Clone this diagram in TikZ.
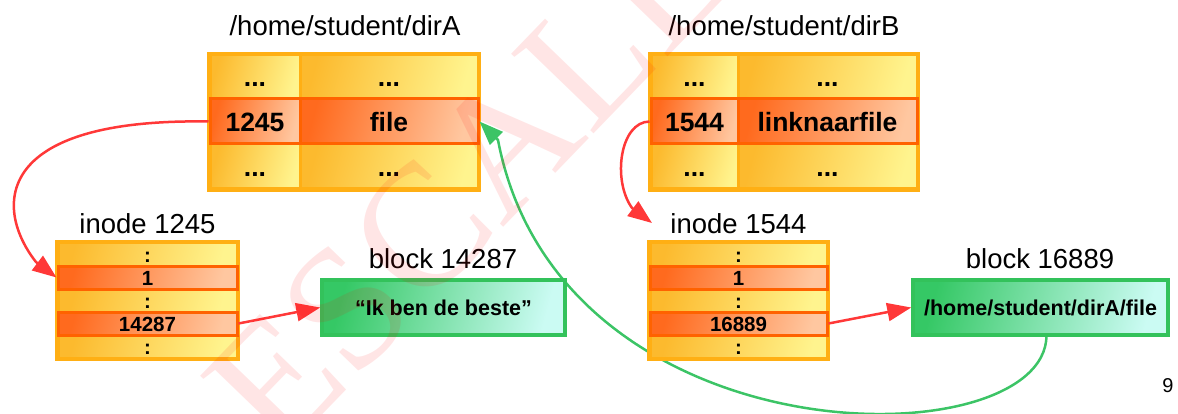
\documentclass[tikz,border=0pt]{standalone}
\usepackage{fontspec}
\setmainfont{Liberation Sans}
\newfontfamily\wmserif{Liberation Serif}
\usetikzlibrary{arrows.meta}
\definecolor{yelL}{HTML}{FCBA2E}
\definecolor{yelR}{HTML}{FFF48E}
\definecolor{yelB}{HTML}{FFAF14}
\definecolor{orgL}{HTML}{FF6A1E}
\definecolor{orgR}{HTML}{FFC7A0}
\definecolor{orgB}{HTML}{FF6200}
\definecolor{grnL}{HTML}{35C865}
\definecolor{grnR}{HTML}{CBFBF3}
\definecolor{grnB}{HTML}{33C25B}
\definecolor{arrRed}{HTML}{FF3838}
\definecolor{arrGrn}{HTML}{3CC466}
\begin{document}
\begin{tikzpicture}[x=1pt,y=-1pt,
  ycell/.style={draw=yelB, line width=3pt, left color=yelL, right color=yelR, shading angle=75, inner sep=0pt},
  ocell/.style={draw=orgB, line width=3pt, left color=orgL, right color=orgR, shading angle=75, inner sep=0pt},
  dirtxt/.style={font=\bfseries\fontsize{26.5}{30}\selectfont, text height=20pt, text depth=0pt},
  inotxt/.style={font=\bfseries\fontsize{20.5}{23}\selectfont, text height=15pt, text depth=0pt,
                 minimum width=179pt, minimum height=23pt},
  lbl/.style={font=\fontsize{27.5}{30}\selectfont, inner sep=0pt},
  blk/.style={draw=grnB, line width=3.5pt, left color=grnL, right color=grnR, shading angle=75,
              font=\bfseries\fontsize{21.5}{24}\selectfont, inner sep=0pt, minimum height=55pt},
  redarr/.style={draw=arrRed, line width=2.5pt, -{Triangle[length=24pt,width=18pt]}},
  grnarr/.style={draw=arrGrn, line width=2.5pt, -{Triangle[length=24pt,width=18pt]}},
  frame/.style={draw=yelB, line width=3pt}
]
\useasboundingbox (0,0) rectangle (1178,414);

% directory /home/student/dirA
\node[lbl] (tA) at (345,26) {/home/student/dirA};
\node[ycell, dirtxt, minimum width=90pt,  minimum height=44pt] (a11) at (255,77) {...};
\node[ycell, dirtxt, minimum width=178pt, minimum height=44pt] (a12) at (389,77) {...};
\node[ycell, dirtxt, minimum width=90pt,  minimum height=45pt] (a31) at (255,166.5) {...};
\node[ycell, dirtxt, minimum width=178pt, minimum height=45pt] (a32) at (389,166.5) {...};
\draw[frame] (a11.north west) rectangle (a32.south east);
\node[ocell, dirtxt, minimum width=90pt,  minimum height=45pt] (a21) at (255,121.5) {1245};
\node[ocell, dirtxt, minimum width=178pt, minimum height=45pt] (a22) at (389,121.5) {file};

% directory /home/student/dirB
\node[lbl] (tB) at (784,26) {/home/student/dirB};
\node[ycell, dirtxt, minimum width=87pt,  minimum height=44pt] (b11) at (694.5,77) {...};
\node[ycell, dirtxt, minimum width=179pt, minimum height=44pt] (b12) at (827.5,77) {...};
\node[ycell, dirtxt, minimum width=87pt,  minimum height=45pt] (b31) at (694.5,166.5) {...};
\node[ycell, dirtxt, minimum width=179pt, minimum height=45pt] (b32) at (827.5,166.5) {...};
\draw[frame] (b11.north west) rectangle (b32.south east);
\node[ocell, dirtxt, minimum width=87pt,  minimum height=45pt] (b21) at (694.5,121.5) {1544};
\node[ocell, dirtxt, minimum width=179pt, minimum height=45pt] (b22) at (827.5,121.5) {linknaarfile};

% green link curve, drawn beneath the inodes
\draw[grnarr] ([xshift=6pt]1040.5,335) coordinate (gstart)
  .. controls (1047,460) and (560,465) .. (498,140) -- (a22.east);

% inode 1245
\node[lbl] (ti1) at (147.5,224) {inode 1245};
\node[ycell, inotxt] (i1r1) at (147.5,254.5) {:};
\node[ycell, inotxt] (i1r3) at (147.5,300.5) {:};
\node[ycell, inotxt] (i1r5) at (147.5,346.5) {:};
\draw[frame] (i1r1.north west) rectangle (i1r5.south east);
\node[ocell, inotxt] (i1r2) at (147.5,277.5) {1};
\node[ocell, inotxt] (i1r4) at (147.5,323.5) {14287};

% inode 1544
\node[lbl] (ti2) at (738.5,224) {inode 1544};
\node[ycell, inotxt, minimum width=177pt] (i2r1) at (738.5,254.5) {:};
\node[ycell, inotxt, minimum width=177pt] (i2r3) at (738.5,300.5) {:};
\node[ycell, inotxt, minimum width=177pt] (i2r5) at (738.5,346.5) {:};
\draw[frame] (i2r1.north west) rectangle (i2r5.south east);
\node[ocell, inotxt, minimum width=177pt] (i2r2) at (738.5,277.5) {1};
\node[ocell, inotxt, minimum width=177pt] (i2r4) at (738.5,323.5) {16889};

% data blocks
\node[lbl] (tb1) at (443,258.5) {block 14287};
\node[blk, minimum width=243pt] (blk1) at (443.5,307.5) {“Ik ben de beste”};
\node[lbl] (tb2) at (1040,258.5) {block 16889};
\node[blk, minimum width=255pt] (blk2) at (1040.5,307.5) {/home/student/dirA/file};

% page number
\node[font=\fontsize{20}{24}\selectfont, inner sep=0pt] (pg) at (1168,386) {9};

% pointers
\coordinate (tipB) at (652,223);
\draw[redarr] (a21.west) .. controls (-10,118) and (-5,210) .. (36,262) -- (i1r2.west);
\draw[redarr] (b21.west) .. controls (620,122) and (612,180) .. (632,208) -- (tipB);
\draw[redarr] (i1r4.east) -- (blk1.west);
\draw[redarr] (i2r4.east) -- (blk2.west);

% watermark
\begin{scope}[opacity=0.1]
  \clip (0,0) rectangle (1178,414);
  \node[rotate=46, text=red, font=\wmserif\fontsize{175}{175}\selectfont, inner sep=0pt] (wm) at (468,182)
    {ESCALL};
\end{scope}
\end{tikzpicture}
\end{document}
